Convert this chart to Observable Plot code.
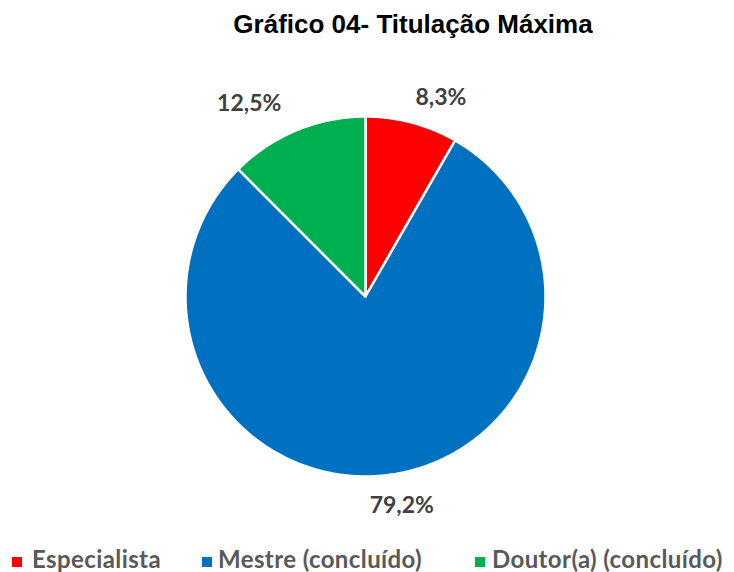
<!DOCTYPE html>
<html>
<head>
<meta charset="utf-8">
<script src="https://cdn.jsdelivr.net/npm/d3@7"></script>
<script src="https://cdn.jsdelivr.net/npm/@observablehq/plot@0.6"></script>
<style>
  html, body { margin: 0; padding: 0; background: #fff; }
  #wrap { width: 734px; height: 572px; position: relative; overflow: hidden; }
  #title { position: absolute; left: 0; top: 11px; width: 734px; text-align: center; padding-left: 92px; box-sizing: border-box;
           font-family: "Liberation Sans", Arial, sans-serif; font-weight: bold; font-size: 26px; line-height: 26px; color: #000; white-space: nowrap; }
  #chart { position: absolute; left: 0; top: 55px; }
  #legend { position: absolute; left: 0; top: 547px; width: 734px; height: 25px;
            font-family: Lato, "Open Sans", sans-serif; font-weight: bold; font-size: 24px; line-height: 24px; letter-spacing: 0.4px; color: #595959; }
  .txt { position: absolute; top: 0; white-space: nowrap; }
  .sw { position: absolute; top: 10px; width: 10px; height: 10px; }
</style>
</head>
<body>
<div id="wrap">
  <div id="title">Gráfico 04- Titulação Máxima</div>
  <div id="chart"></div>
  <div id="legend"></div>
</div>
<script>
const categories = ["Especialista", "Mestre (concluído)", "Doutor(a) (concluído)"];
const values = [8.3, 79.2, 12.5];
const valueLabels = ["8,3%", "79,2%", "12,5%"];
const colors = ["#FF0000", "#0070C0", "#00B050"];

// layout
const W = 734, H = 470;
const cx = 365, cy = 241, R = 180, labelR = 215;
const labelNudge = [[20, 9], [8, -4], [-34, 6]];
const legendSwatchX = [12, 202, 475];
const legendTextX = [32, 218, 492];

const total = d3.sum(values);
let acc = 0;
const slices = values.map((v, i) => {
  const a0 = acc / total * 2 * Math.PI;
  acc += v;
  const a1 = acc / total * 2 * Math.PI;
  return { cat: categories[i], label: valueLabels[i], a0, a1 };
});

const pt = (a, r) => ({ x: cx + r * Math.sin(a), y: cy - r * Math.cos(a) });

const polys = [];
for (const s of slices) {
  polys.push({ cat: s.cat, ...pt(0, 0) });
  const n = Math.max(2, Math.ceil((s.a1 - s.a0) / (Math.PI / 360)));
  for (let k = 0; k <= n; k++) {
    const a = s.a0 + (s.a1 - s.a0) * k / n;
    polys.push({ cat: s.cat, ...pt(a, R) });
  }
  polys.push({ cat: s.cat, ...pt(0, 0) });
}

const labels = slices.map((s, i) => {
  const p = pt((s.a0 + s.a1) / 2, labelR);
  return { label: s.label, x: p.x + labelNudge[i][0], y: p.y + labelNudge[i][1] };
});

const chart = Plot.plot({
  width: W,
  height: H,
  margin: 0,
  x: { domain: [0, W], range: [0, W], axis: null },
  y: { domain: [0, H], range: [0, H], axis: null },
  color: { domain: categories, range: colors },
  marks: [
    Plot.line(polys, { x: "x", y: "y", z: "cat", fill: "cat", stroke: "white", strokeWidth: 2.5, strokeLinejoin: "round", curve: "linear" }),
    Plot.text(labels, { x: "x", y: "y", text: "label", fontSize: 23, fontWeight: "bold", fill: "#404040", fontFamily: "Lato, 'Open Sans', sans-serif" })
  ]
});
document.getElementById("chart").appendChild(chart);

const legend = document.getElementById("legend");
categories.forEach((c, i) => {
  const sw = document.createElement("div");
  sw.className = "sw";
  sw.style.left = legendSwatchX[i] + "px";
  sw.style.background = colors[i];
  legend.appendChild(sw);
  const t = document.createElement("div");
  t.className = "txt";
  t.style.left = legendTextX[i] + "px";
  t.textContent = c;
  legend.appendChild(t);
});
</script>
</body>
</html>
